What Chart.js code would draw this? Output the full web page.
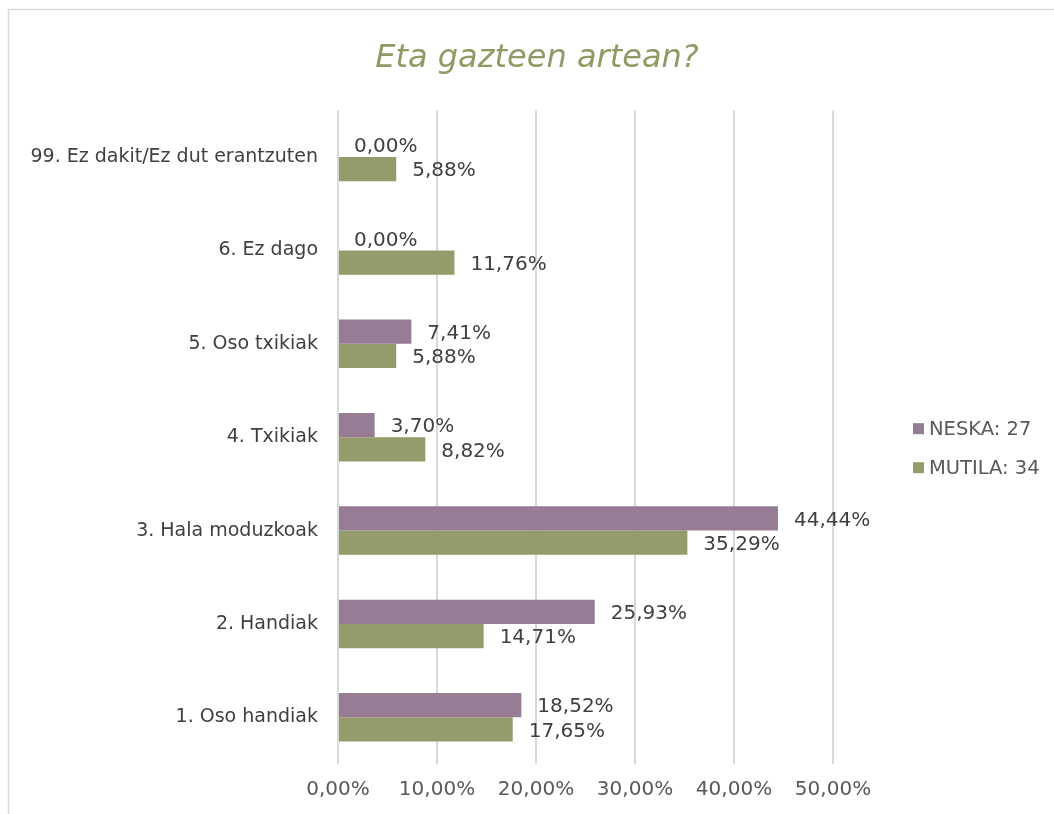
<!DOCTYPE html>
<html>
  <head>
    <meta charset="utf-8">
    <title>Eta gazteen artean?</title>
    <script src="https://cdn.jsdelivr.net/npm/chart.js"></script>
    <style>
      html, body { margin: 0; padding: 0; background: #fff; }
      canvas { display: block; }
    </style>
  </head>
  <body>
    <canvas id="chart" width="1054" height="814"></canvas>

    <script>
      // chart data
      const categories = [
        '99. Ez dakit/Ez dut erantzuten',
        '6. Ez dago',
        '5. Oso txikiak',
        '4. Txikiak',
        '3. Hala moduzkoak',
        '2. Handiak',
        '1. Oso handiak'
      ];
      const seriesNames = ['NESKA: 27', 'MUTILA: 34'];
      const neska = [0, 0, 7.41, 3.70, 44.44, 25.93, 18.52];
      const mutila = [5.88, 11.76, 5.88, 8.82, 35.29, 14.71, 17.65];
      const xTicks = [0, 10, 20, 30, 40, 50];

      const FONT = "'DejaVu Sans', sans-serif";
      const fmt = (v) => v.toFixed(2).replace('.', ',') + '%';

      // grey frame round the chart (top and left are the visible edges)
      const framePlugin = {
        id: 'frame',
        beforeDraw(chart) {
          const c = chart.ctx;
          c.save();
          c.strokeStyle = '#d9d9d9';
          c.lineWidth = 1.5;
          c.beginPath();
          c.moveTo(8.5, chart.height);
          c.lineTo(8.5, 9.5);
          c.lineTo(chart.width, 9.5);
          c.stroke();
          c.restore();
        }
      };

      // value labels to the right of each bar
      const valueLabels = {
        id: 'valueLabels',
        afterDatasetsDraw(chart) {
          const c = chart.ctx;
          c.save();
          c.font = '20px ' + FONT;
          c.fillStyle = '#404040';
          c.textAlign = 'left';
          c.textBaseline = 'middle';
          chart.data.datasets.forEach((ds, i) => {
            chart.getDatasetMeta(i).data.forEach((bar, j) => {
              c.fillText(fmt(ds.data[j]), bar.x + 16, bar.y + 2);
            });
          });
          c.restore();
        }
      };

      // legend sitting right of the plot, like the original
      const sideLegend = {
        id: 'sideLegend',
        afterDraw(chart) {
          const c = chart.ctx;
          const area = chart.chartArea;
          const x = area.right + 80;
          const midY = (area.top + area.bottom) / 2 + 11;
          const gap = 39;
          c.save();
          c.font = '19.5px ' + FONT;
          c.textBaseline = 'middle';
          c.textAlign = 'left';
          chart.data.datasets.forEach((ds, i) => {
            const y = midY + (i - 0.5) * gap;
            c.fillStyle = ds.backgroundColor;
            c.fillRect(x, y - 5.5, 11, 11);
            c.fillStyle = '#595959';
            c.fillText(ds.label, x + 16, y + 1);
          });
          c.restore();
        }
      };

      const ctx = document.getElementById('chart').getContext('2d');
      const chart = new Chart(ctx, {
        type: 'bar',
        data: {
          labels: categories,
          datasets: [
            { label: seriesNames[0], data: neska, backgroundColor: '#967d95' },
            { label: seriesNames[1], data: mutila, backgroundColor: '#959b6a' }
          ]
        },
        options: {
          indexAxis: 'y',
          responsive: false,
          animation: false,
          devicePixelRatio: 1,
          categoryPercentage: 0.52,
          barPercentage: 1,
          layout: { padding: { left: 30, right: 10, top: 10, bottom: 0 } },
          plugins: {
            legend: { display: false },
            tooltip: { enabled: false },
            title: {
              display: true,
              text: 'Eta gazteen artean?',
              color: '#8f9a64',
              font: { family: FONT, size: 32, style: 'italic', weight: 'normal' },
              padding: { top: 29, bottom: 33 }
            }
          },
          scales: {
            x: {
              min: 0,
              max: 50,
              afterBuildTicks(scale) {
                scale.ticks = xTicks.map(v => ({ value: v }));
              },
              afterFit(scale) {
                scale.paddingRight = 221;
                scale.height = 50;
              },
              ticks: {
                callback: (v) => fmt(v),
                color: '#595959',
                font: { family: FONT, size: 20 },
                padding: 14
              },
              grid: { color: '#d9d9d9', lineWidth: 2, drawTicks: false },
              border: { display: false }
            },
            y: {
              afterFit(scale) {
                scale.width = 308;
                scale.paddingTop = 0;
                scale.paddingBottom = 0;
              },
              ticks: {
                color: '#404040',
                font: { family: FONT, size: 19 },
                padding: 20
              },
              grid: { display: false, drawTicks: false },
              border: { display: false }
            }
          }
        },
        plugins: [framePlugin, valueLabels, sideLegend]
      });
    </script>
  </body>
</html>
